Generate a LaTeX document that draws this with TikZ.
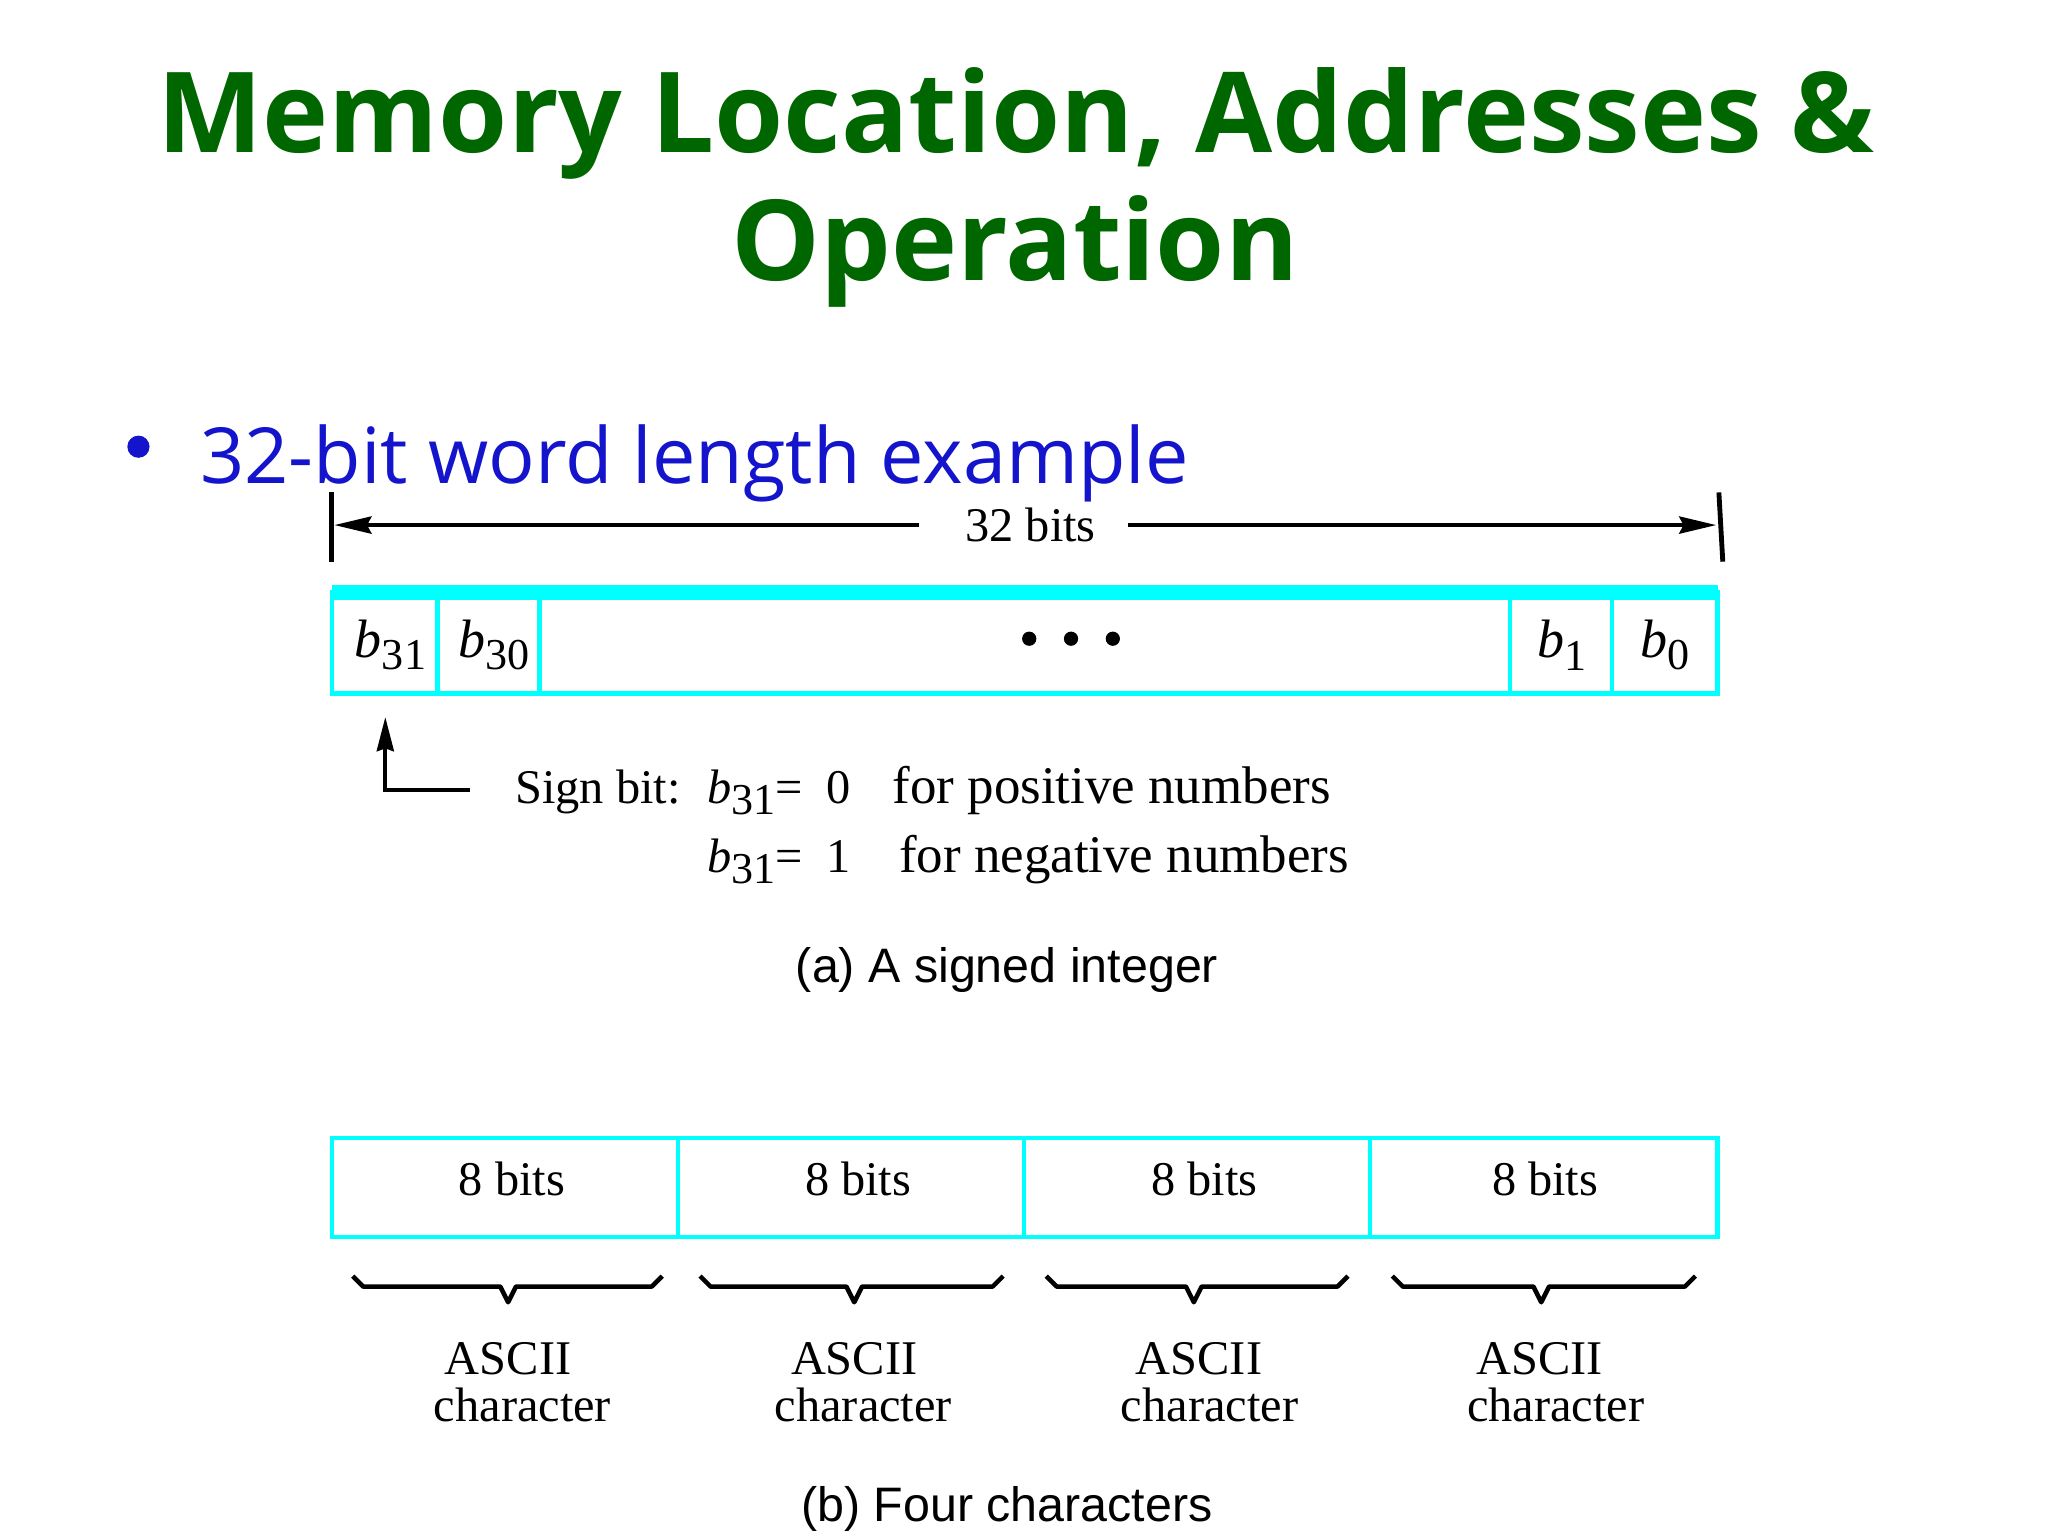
\documentclass[tikz,border=0pt]{standalone}
\usepackage{fontspec}
\usepackage{tikz}
\setmainfont{Liberation Serif}
\newfontfamily\slidefont{Open Sans}
\newfontfamily\capfont{Liberation Sans}
\usetikzlibrary{arrows.meta}

\definecolor{titlegreen}{RGB}{0,102,0}
\definecolor{bulletblue}{RGB}{20,20,204}
\definecolor{cellcyan}{RGB}{0,255,255}

\newcommand{\bitsub}[1]{\textit{b}\raisebox{-0.5ex}{\fontsize{15.5}{15.5}\selectfont #1}}

\tikzset{
    slidetitle/.style={text=titlegreen, font=\slidefont\bfseries\fontsize{39.3}{39.3}\selectfont, anchor=base, inner sep=0pt},
    bullettext/.style={text=bulletblue, font=\slidefont\fontsize{27.2}{27.2}\selectfont, anchor=base west, inner sep=0pt},
    figtext/.style={black, font=\fontsize{17}{17}\selectfont, inner sep=0pt},
    widetext/.style={black, font=\fontsize{18.6}{18.6}\selectfont, inner sep=0pt, anchor=base west},
    captext/.style={black, font=\capfont\fontsize{17}{17}\selectfont, anchor=base, inner sep=0pt},
    cellline/.style={cellcyan, line width=1.5pt},
    blackarrow/.style={black, line width=1.5pt, -{Stealth[length=13pt,width=6pt,inset=1.5pt]}},
    signarrow/.style={black, line width=1.3pt, -{Stealth[length=12pt,width=6pt,inset=1pt]}},
    bracestroke/.style={black, line width=1.6pt, line join=round}
}

\begin{document}
\begin{tikzpicture}[x=0.459pt, y=-0.459pt]
        \useasboundingbox (0,0) rectangle (1568,1176);

        % title and bullet
        \node[slidetitle] (title1) at (778,117) {Memory Location, Addresses \&};
        \node[slidetitle] (title2) at (777,215) {Operation};
        \node[circle, fill=bulletblue, inner sep=0pt, minimum size=7.8pt] (bullet) at (106,342) {};
        \node[bullettext] (bulletline) at (153,370) {32-bit word length example};

        % 32 bits span
        \coordinate (leftstop) at (254,377);
        \coordinate (leftstopbot) at (254,430);
        \coordinate (rightstop) at (1316,377);
        \coordinate (rightstopbot) at (1319,430);
        \draw[black, line width=1.7pt] (leftstop) -- (leftstopbot);
        \draw[black, line width=1.7pt] (rightstop) -- (rightstopbot);
        \coordinate (leftend) at (256,402);
        \coordinate (rightend) at (1314,402);
        \node[figtext, inner xsep=11pt] (wordlen) at (789,402) {32 bits};
        \draw[blackarrow, shorten <=5pt] (wordlen) -- (leftend);
        \draw[blackarrow] (wordlen) -- (rightend);

        % signed integer word
        \fill[cellcyan] (254,448) rectangle (1315,459);
        \draw[cellline] (254,453) rectangle (1315,531);
        \draw[cellline] (335,453) -- (335,531);
        \draw[cellline] (413,453) -- (413,531);
        \draw[cellline] (1156,453) -- (1156,531);
        \draw[cellline] (1234,453) -- (1234,531);

        \node[figtext, font=\fontsize{19}{19}\selectfont] (b31) at (299,494) {\bitsub{31}};
        \node[figtext, font=\fontsize{19}{19}\selectfont] (b30) at (378,494) {\bitsub{30}};
        \node[figtext, font=\fontsize{19}{19}\selectfont] (b1) at (1196,494) {\bitsub{1}};
        \node[figtext, font=\fontsize{19}{19}\selectfont] (b0) at (1275,494) {\bitsub{0}};
        \filldraw (788,489) circle (5);
        \filldraw (820,489) circle (5);
        \filldraw (852,489) circle (5);

        % sign bit note
        \coordinate (signfoot) at (360,605);
        \coordinate (signcorner) at (295,605);
        \coordinate (signtip) at (295,549);
        \draw[signarrow] (signfoot) -- (signcorner) -- (signtip);
        \node[figtext, anchor=base west] (signlbl) at (394,615) {Sign bit:};
        \node[figtext, anchor=base west] (signzero) at (541,615) {\bitsub{31}= \ 0};
        \node[widetext] (signpos) at (683,615) {for positive numbers};
        \node[figtext, anchor=base west] (signone) at (541,668) {\bitsub{31}= \ 1};
        \node[widetext] (signneg) at (688,668) {for negative numbers};

        \node[captext] (capa) at (771,752) {(a) A signed integer};

        % four characters word
        \draw[cellline] (254,871) rectangle (1315,947);
        \draw[cellline] (519,871) -- (519,947);
        \draw[cellline] (784,871) -- (784,947);
        \draw[cellline] (1049,871) -- (1049,947);

        \node[figtext, anchor=base] (byte3) at (392,915) {8 bits};
        \node[figtext, anchor=base] (byte2) at (657,915) {8 bits};
        \node[figtext, anchor=base] (byte1) at (922,915) {8 bits};
        \node[figtext, anchor=base] (byte0) at (1183,915) {8 bits};

        % braces under the bytes
        \draw[bracestroke] (270,977) -- ++(8,8) -- (383,985) -- (389,997) -- (395,985) -- (499,985) -- ++(8,-8);
        \draw[bracestroke] (536,977) -- ++(8,8) -- (648,985) -- (654,997) -- (660,985) -- (760,985) -- ++(8,-8);
        \draw[bracestroke] (801,977) -- ++(8,8) -- (908,985) -- (914,997) -- (920,985) -- (1024,985) -- ++(8,-8);
        \draw[bracestroke] (1066,977) -- ++(8,8) -- (1174,985) -- (1180,997) -- (1186,985) -- (1290,985) -- ++(8,-8);

        \node[figtext, anchor=base] (ascii3) at (389,1052) {ASCII};
        \node[figtext, anchor=base] (char3) at (400,1088) {character};
        \node[figtext, anchor=base] (ascii2) at (654,1052) {ASCII};
        \node[figtext, anchor=base] (char2) at (661,1088) {character};
        \node[figtext, anchor=base] (ascii1) at (918,1052) {ASCII};
        \node[figtext, anchor=base] (char1) at (926,1088) {character};
        \node[figtext, anchor=base] (ascii0) at (1179,1052) {ASCII};
        \node[figtext, anchor=base] (char0) at (1191,1088) {character};

        \node[captext] (capb) at (771,1165) {(b) Four characters};
       \end{tikzpicture}
\end{document}
